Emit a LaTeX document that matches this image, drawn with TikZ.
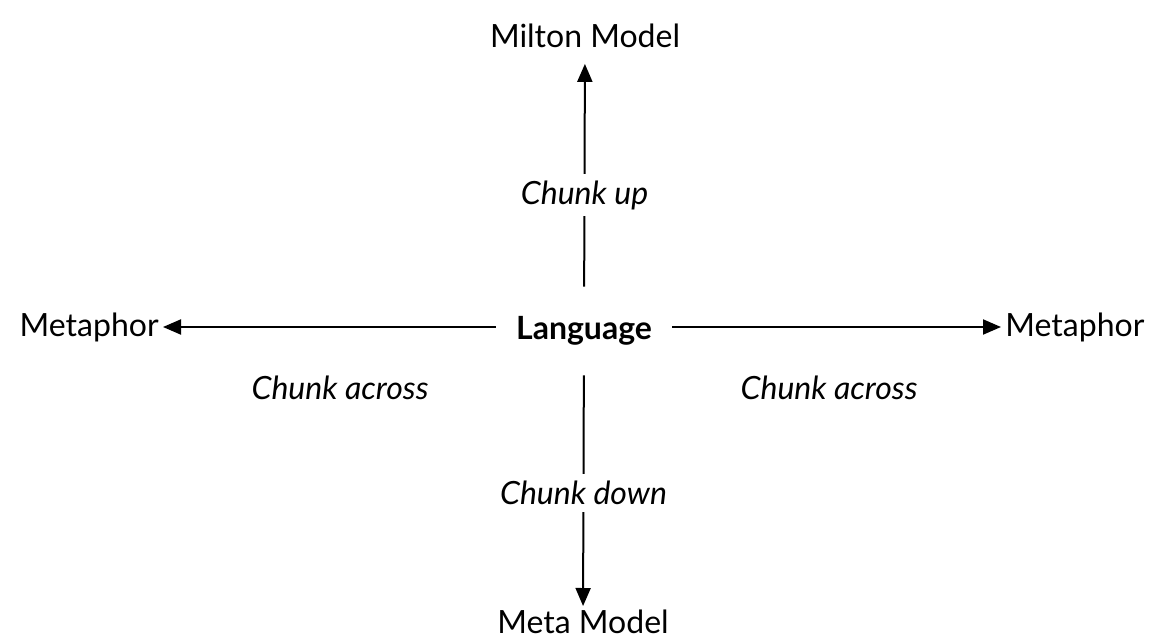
\documentclass[tikz,border=0pt]{standalone}
\usepackage{fontspec}
\setmainfont{Lato}
\usetikzlibrary{arrows.meta}

\tikzset{
  term/.style={font=\fontsize{16}{19}\selectfont, inner sep=2pt},
  chunk/.style={font=\fontsize{16}{19}\selectfont\itshape},
  link/.style={line width=1pt, -{Triangle[length=9pt,width=7.5pt]}}
}

\begin{document}
\begin{tikzpicture}[x=0.5pt,y=-0.5pt]
\useasboundingbox (0,0) rectangle (1154,641);
\node[term, font=\fontsize{16}{19}\selectfont\bfseries, inner xsep=10pt, minimum height=44pt] (lang) at (584,331) {Language};
\node[term, outer ysep=6pt] (milton) at (585,36) {Milton Model};
\node[term, anchor=north] (meta) at (583,606) {Meta Model};
\node[term, anchor=east] (left) at (163,327) {Metaphor};
\node[term, anchor=west] (right) at (1001,327) {Metaphor};
\draw[link] (lang) -- node[chunk, fill=white, pos=0.41] (up) {Chunk up} (milton);
\draw[link] (lang) -- node[chunk, fill=white, pos=0.51] (down) {Chunk down} (meta);
\draw[link] (lang.west |- left) -- (left);
\draw[link] (lang.east |- right) -- (right);
\node[chunk] (acrossl) at (340,388) {Chunk across};
\node[chunk] (acrossr) at (829,388) {Chunk across};
\end{tikzpicture}
\end{document}
